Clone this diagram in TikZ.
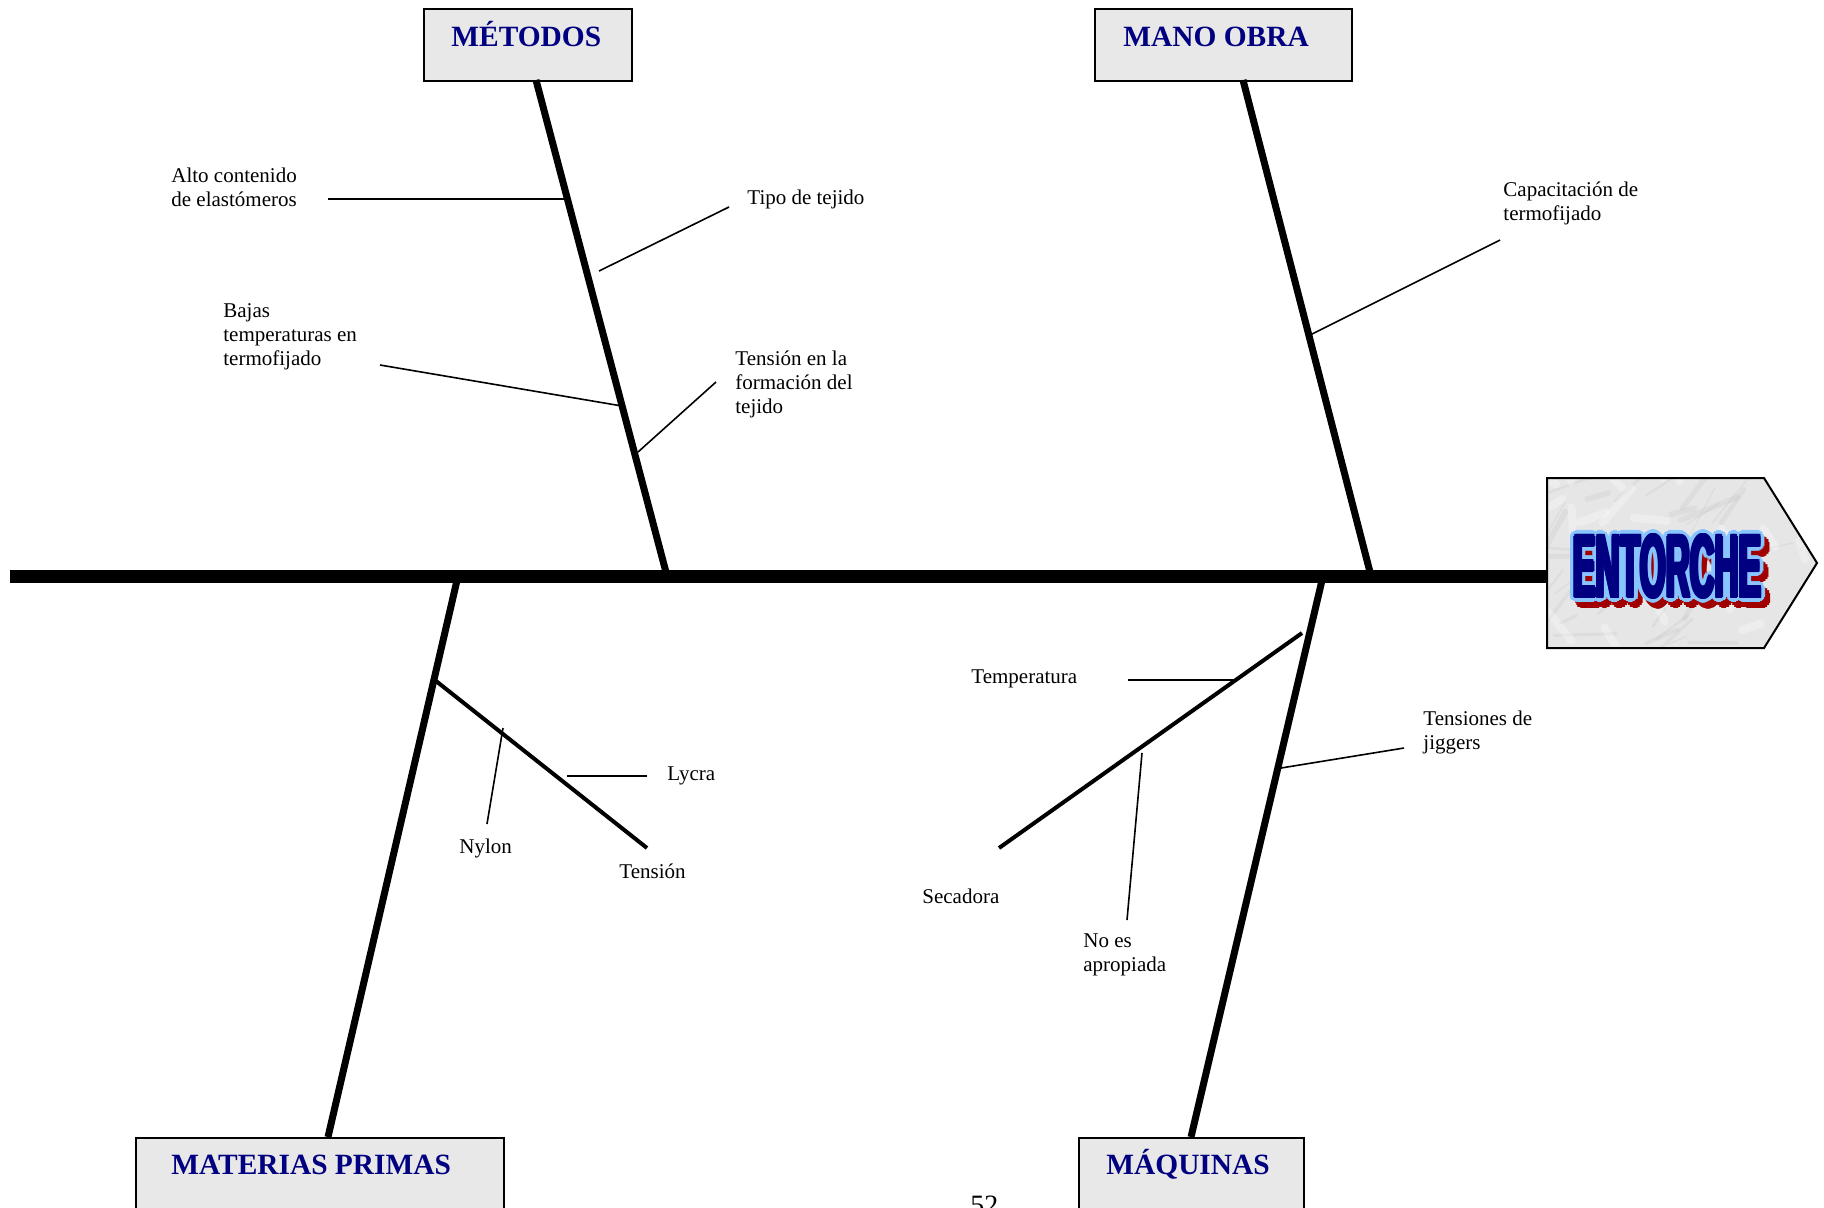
\documentclass[tikz,border=0pt]{standalone}
\usepackage{fontspec}
\setmainfont{Liberation Serif}
\newfontfamily\entfont{Liberation Sans}
\usetikzlibrary{calc}
\definecolor{navy}{HTML}{000080}
\definecolor{boxgray}{HTML}{E8E8E8}
\definecolor{marble}{HTML}{E6E6E6}
\definecolor{entblue}{HTML}{88C4FF}
\definecolor{entred}{HTML}{A00000}
\newcommand{\entword}{\resizebox{94pt}{31pt}{\entfont\bfseries ENTORCHE}}
\begin{document}
\begin{tikzpicture}[x=0.5pt,y=-0.5pt,
  spine/.style={line width=6.5pt},
  bone/.style={line width=3.5pt},
  twig/.style={line width=2pt},
  leaf/.style={line width=0.8pt},
  catbox/.style={draw=black, line width=1pt, fill=boxgray, anchor=north west, inner sep=0},
  cattitle/.style={font=\fontsize{14.7}{17}\selectfont\bfseries, text=navy, anchor=west, inner sep=0, text height=9.7pt, text depth=0pt},
  lbl/.style={font=\fontsize{10.5}{12}\selectfont, align=left, anchor=west, inner sep=0},
  entcopy/.style={inner sep=0}
]
\useasboundingbox (0,0) rectangle (1824,1207);
\clip (0,0) rectangle (1824,1207);

% ---------- category boxes ----------
\node (metbox) [catbox, minimum width=104pt, minimum height=36pt] at (423,8) {};
\node (manbox) [catbox, minimum width=128.5pt, minimum height=36pt] at (1094,8) {};
\node (matbox) [catbox, minimum width=184pt, minimum height=50pt] at (135,1137) {};
\node (maqbox) [catbox, minimum width=112.5pt, minimum height=50pt] at (1078,1137) {};

\node (mettl) [cattitle] at (451,37) {MÉTODOS};
\node (mantl) [cattitle] at (1123,37) {MANO OBRA};
\node (mattl) [cattitle] at (171,1165) {MATERIAS PRIMAS};
\node (maqtl) [cattitle] at (1106,1165) {MÁQUINAS};

% ---------- effect (ENTORCHE) ----------
\coordinate (effect) at (1547,576);
\begin{scope}
  \path[clip] (1547,478) -- (1764,478) -- (1817,563) -- (1764,648) -- (1547,648) -- cycle;
  \fill[marble] (1540,470) rectangle (1820,655);
  \pgfmathsetseed{23}
  \foreach \i in {1,...,45}{
    \pgfmathsetmacro\xa{1540+rnd*280}
    \pgfmathsetmacro\ya{470+rnd*185}
    \pgfmathsetmacro\ang{rnd*70-5}
    \pgfmathsetmacro\len{8+rnd*25}
    \pgfmathsetmacro\wd{0.5+rnd*2.5}
    \draw[gray!55, opacity=0.2, line width=\wd pt, line cap=round] (\xa,\ya) -- ++(\ang:\len pt);
  }
  \foreach \i in {1,...,25}{
    \pgfmathsetmacro\xa{1540+rnd*280}
    \pgfmathsetmacro\ya{470+rnd*185}
    \pgfmathsetmacro\ang{rnd*180}
    \pgfmathsetmacro\len{6+rnd*18}
    \draw[white, opacity=0.3, line width=4pt, line cap=round] (\xa,\ya) -- ++(\ang:\len pt);
  }
\end{scope}
\draw[line width=1pt] (1547,478) -- (1764,478) -- (1817,563) -- (1764,648) -- (1547,648) -- cycle;

\coordinate (ec) at (1667.5,566.5);
\foreach \a [count=\k] in {0,30,...,330}
  \node (entr\k) [entcopy, text=entred] at ($(ec)+(5,6)+(\a:2.6pt)$) {\entword};
\foreach \a [count=\k] in {0,22.5,...,337.5}
  \node (entb\k) [entcopy, text=entblue] at ($(ec)+(\a:2.6pt)$) {\entword};
\foreach \a [count=\k] in {0,45,...,315}
  \node (entn\k) [entcopy, text=navy] at ($(ec)+(\a:0.8pt)$) {\entword};
\node (entc) [entcopy, text=navy] at (ec) {\entword};

% ---------- spine ----------
\coordinate (tail) at (10,576);
\draw[spine] (tail) -- (effect);

% ---------- main bones ----------
\coordinate (metA) at (536,80);   \coordinate (metB) at (667,576);
\coordinate (manA) at (1243,80);  \coordinate (manB) at (1371,576);
\coordinate (matA) at (458,576);  \coordinate (matB) at (328,1137);
\coordinate (maqA) at (1323,576); \coordinate (maqB) at (1191,1137);
\draw[bone] (metA) -- (metB);
\draw[bone] (manA) -- (manB);
\draw[bone] (matA) -- (matB);
\draw[bone] (maqA) -- (maqB);

% ---------- MÉTODOS causes ----------
\node (alto) [lbl] at (171,187) {Alto contenido\\de elastómeros};
\coordinate (altoA) at (328,199); \coordinate (altoB) at (567,199);
\draw[leaf] (altoA) -- (altoB);

\node (tipo) [lbl] at (747,199) {Tipo de tejido};
\coordinate (tipoA) at (729,207); \coordinate (tipoB) at (599,271);
\draw[leaf] (tipoA) -- (tipoB);

\node (bajas) [lbl] at (223,337) {Bajas\\temperaturas en\\termofijado};
\coordinate (bajasA) at (380,365); \coordinate (bajasB) at (622,406);
\draw[leaf] (bajasA) -- (bajasB);

\node (tform) [lbl] at (735,384) {Tensión en la\\formación del\\tejido};
\coordinate (tformA) at (716,382); \coordinate (tformB) at (638,452);
\draw[leaf] (tformA) -- (tformB);

% ---------- MANO OBRA causes ----------
\node (capac) [lbl] at (1503,203) {Capacitación de\\termofijado};
\coordinate (capA) at (1500,240); \coordinate (capB) at (1310,335);
\draw[leaf] (capA) -- (capB);

% ---------- MATERIAS PRIMAS causes ----------
\coordinate (tenA) at (436,681); \coordinate (tenB) at (647,848);
\draw[twig] (tenA) -- (tenB);
\node (tension) [lbl] at (619,871) {Tensión};
\node (lycra) [lbl] at (667,776) {Lycra};
\coordinate (lyA) at (567,776); \coordinate (lyB) at (647,776);
\draw[leaf] (lyA) -- (lyB);
\node (nylon) [lbl] at (459,848) {Nylon};
\coordinate (nyA) at (503,728); \coordinate (nyB) at (487,824);
\draw[leaf] (nyA) -- (nyB);

% ---------- MÁQUINAS causes ----------
\coordinate (secA) at (1302,633); \coordinate (secB) at (999,848);
\draw[twig] (secA) -- (secB);
\node (secad) [lbl] at (922,896) {Secadora};
\node (temp) [lbl] at (971,679) {Temperatura};
\coordinate (tempA) at (1128,680); \coordinate (tempB) at (1237,680);
\draw[leaf] (tempA) -- (tempB);
\node (noes) [lbl] at (1083,955) {No es\\apropiada};
\coordinate (noA) at (1142,753); \coordinate (noB) at (1127,920);
\draw[leaf] (noA) -- (noB);
\node (jig) [lbl] at (1423,732) {Tensiones de\\jiggers};
\coordinate (jigA) at (1404,748); \coordinate (jigB) at (1281,768);
\draw[leaf] (jigA) -- (jigB);

% ---------- page number (cut off) ----------
\node (pagenum) [anchor=north west, inner sep=0, font=\fontsize{14}{16}\selectfont] at (970,1196) {52};
\end{tikzpicture}
\end{document}
